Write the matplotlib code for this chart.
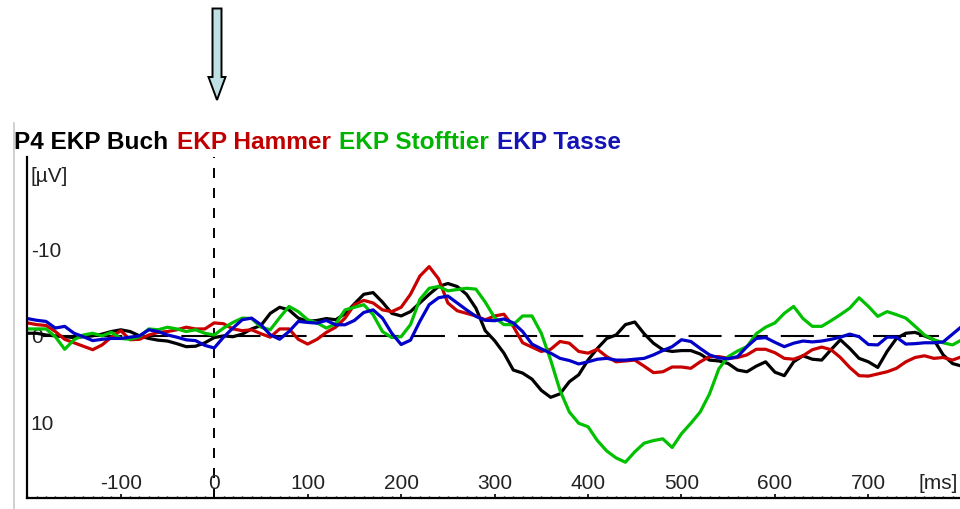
import numpy as np
import matplotlib
matplotlib.use('Agg')
import matplotlib.pyplot as plt
from matplotlib.patches import Polygon
from matplotlib.lines import Line2D
from matplotlib.ticker import MultipleLocator

plt.rcParams['font.family'] = ['Liberation Sans', 'DejaVu Sans']
plt.rcParams['lines.scale_dashes'] = False
plt.rcParams['axes.unicode_minus'] = False

# sampling grid in ms (every 10 ms)
times = np.arange(-200, 801, 10)

# ERP traces in microvolt (negative up)
buch = [-0.3, -0.3, -0.1, 0.0, 0.1, 0.2, 0.1, 0.0, -0.2, -0.5,
        -0.7, -0.5, 0.0, 0.3, 0.5, 0.6, 0.9, 1.25, 1.2, 0.8,
        0.2, 0.0, 0.1, -0.2, -0.8, -1.2, -2.6, -3.3, -3.0, -2.05,
        -1.67, -1.78, -2.0, -1.86, -2.55, -3.7, -4.8, -5.0, -3.9, -2.6,
        -2.3, -2.8, -3.8, -4.8, -5.7, -6.05, -5.7, -4.8, -3.2, -0.6,
        0.55, 2.0, 3.95, 4.3, 5.0, 6.3, 7.1, 6.7, 5.3, 4.5,
        2.8, 1.45, 0.3, -0.1, -1.3, -1.6, -0.25, 0.85, 1.6, 1.8,
        1.7, 1.7, 2.1, 2.8, 2.9, 3.2, 3.95, 4.15, 3.5, 3.0,
        4.2, 4.6, 3.0, 2.3, 2.7, 2.8, 1.6, 0.45, 1.45, 2.6,
        3.0, 3.65, 1.8, 0.3, -0.3, -0.4, 0.0, 0.45, 2.2, 3.2,
        3.5]
hammer = [-1.5, -1.3, -1.2, -0.5, 0.4, 0.8, 1.2, 1.6, 1.05, 0.15,
          -0.6, 0.45, 0.4, -0.1, -0.4, -0.5, -0.7, -1.0, -0.8, -0.8,
          -1.5, -1.4, -0.8, -0.6, -0.7, -0.25, 0.15, -0.8, -0.8, 0.4,
          0.95, 0.4, -0.4, -1.0, -2.05, -3.6, -4.1, -3.8, -3.0, -2.8,
          -3.3, -4.8, -6.9, -8.0, -6.6, -3.8, -2.9, -2.6, -2.3, -1.85,
          -2.3, -2.5, -1.1, 0.8, 1.3, 1.8, 1.55, 0.65, 0.85, 1.8,
          2.0, 1.55, 2.4, 3.0, 2.9, 2.8, 3.5, 4.25, 4.15, 3.6,
          3.6, 3.75, 3.0, 2.4, 2.4, 2.6, 2.5, 2.2, 1.55, 1.55,
          1.95, 2.6, 2.7, 2.3, 1.6, 1.3, 1.6, 2.5, 3.65, 4.6,
          4.65, 4.4, 4.15, 3.75, 3.0, 2.5, 2.3, 2.6, 2.5, 2.8,
          2.4]
stofftier = [-0.8, -0.8, -0.8, 0.1, 1.55, 0.45, -0.1, -0.3, 0.0, -0.4,
             0.3, 0.4, 0.1, -0.8, -0.7, -1.0, -0.8, -0.5, -0.7, -0.3,
             -0.1, -0.9, -1.55, -2.05, -2.0, -1.0, -0.7, -2.1, -3.4, -2.8,
             -1.86, -1.5, -0.9, -1.4, -3.0, -3.3, -3.6, -2.45, -0.5, 0.2,
             0.1, -1.3, -4.2, -5.5, -5.7, -5.2, -5.35, -5.5, -5.4, -3.9,
             -2.1, -1.3, -1.3, -2.3, -2.3, -0.3, 2.8, 6.3, 8.8, 10.1,
             10.5, 12.1, 13.3, 14.1, 14.6, 13.4, 12.4, 12.1, 11.9, 12.9,
             11.3, 10.1, 8.8, 6.7, 3.8, 2.4, 1.75, 1.25, -0.25, -1.0,
             -1.5, -2.6, -3.4, -2.0, -1.1, -1.1, -1.75, -2.45, -3.2, -4.4,
             -3.4, -2.25, -2.8, -2.45, -2.05, -1.1, -0.1, 0.45, 0.8, 1.05,
             0.45]
tasse = [-2.0, -1.8, -1.67, -0.9, -1.1, -0.3, 0.1, 0.55, 0.4, 0.3,
         0.3, 0.15, 0.0, -0.7, -0.5, -0.1, 0.15, 0.46, 0.55, 1.1,
         1.4, 0.15, -0.9, -1.86, -2.05, -1.28, -0.12, 0.39, -0.5, -1.67,
         -1.55, -1.47, -1.78, -1.28, -1.28, -1.78, -2.7, -3.0, -2.05, -0.3,
         1.0, 0.5, -1.67, -3.6, -4.4, -4.6, -3.8, -3.0, -2.25, -1.8,
         -1.75, -1.95, -1.5, -0.5, 0.95, 1.5, 2.0, 2.6, 2.85, 3.25,
         3.0, 2.7, 2.6, 2.8, 2.8, 2.7, 2.6, 2.2, 1.7, 1.25,
         0.45, 0.65, 1.45, 2.2, 2.55, 2.65, 2.4, 1.25, 0.3, 0.2,
         0.75, 1.25, 0.85, 0.6, 0.7, 0.6, 0.4, 0.15, -0.2, 0.1,
         1.0, 1.05, 0.15, 0.15, 0.95, 0.9, 0.8, 0.8, 0.7, -0.2,
         -1.1]

series = [('EKP Buch', buch, '#000000'),
          ('EKP Hammer', hammer, '#c80000'),
          ('EKP Stofftier', stofftier, '#00c000'),
          ('EKP Tasse', tasse, '#0000c8')]
title_parts = [('P4 EKP Buch', '#000000'), ('EKP Hammer', '#c00000'),
               ('EKP Stofftier', '#00b400'), ('EKP Tasse', '#1414b4')]

x_ticks = [-100, 0, 100, 200, 300, 400, 500, 600, 700]
y_ticks = [-10, 0, 10]
zero_line_from, zero_line_to = -183, 776

W, H = 960, 509
fig = plt.figure(figsize=(W / 100, H / 100), dpi=100)
ax = fig.add_axes([27.3 / W, 11.3 / H, 1 - 27.3 / W, 341 / H])
ax.set_xlim(-200, 798)
ax.set_ylim(18.7, -20.7)

for s in ['top', 'right']:
    ax.spines[s].set_visible(False)
for s in ['left', 'bottom']:
    ax.spines[s].set_linewidth(1.6)

# baseline and stimulus onset
ax.plot([zero_line_from, zero_line_to], [0, 0], color='k', lw=1.5,
        dashes=(23.8, 9.4), zorder=1)
ax.axvline(0, color='k', lw=1.4, dashes=(7.2, 7.2), zorder=1)

for name, vals, col in series:
    ax.plot(times, vals, color=col, lw=2.3, label=name, zorder=2)

ax.set_xticks(x_ticks)
ax.xaxis.set_minor_locator(MultipleLocator(10))
ax.tick_params(axis='x', which='major', direction='in', length=3, width=1.2,
               pad=-6.3, labelsize=15, labelcolor='#222222')
ax.tick_params(axis='x', which='minor', direction='in', length=1.6, width=1)
for lbl in ax.get_xticklabels():
    lbl.set_va('baseline')

ax.set_yticks(y_ticks)
ax.tick_params(axis='y', length=0, pad=-2.5, labelsize=15, labelcolor='#222222')
for lbl in ax.get_yticklabels():
    lbl.set_ha('left')

ax.annotate('[ms]', xy=(775, 0), xycoords=('data', 'axes fraction'),
            xytext=(0, 6.3), textcoords='offset points', ha='center',
            va='baseline', fontsize=15, color='#222222')
ax.annotate('[µV]', xy=(0, -18.6), xycoords=('axes fraction', 'data'),
            xytext=(2.5, 0), textcoords='offset points', ha='left',
            va='center_baseline', fontsize=15, color='#222222')

# coloured title, piece by piece
fig.canvas.draw()
renderer = fig.canvas.get_renderer()
x = 14
for text, col in title_parts:
    t = fig.text(x / W, 1 - 149.3 / H, text, color=col, fontsize=17.6,
                 fontweight='bold', va='baseline')
    bb = t.get_window_extent(renderer)
    x = bb.x1 + 8.5

# grey frame line on the left
fig.add_artist(Line2D([13.5 / W, 13.5 / W], [0, 1 - 123 / H],
                      transform=fig.transFigure, color='#c8c8c8', lw=1.2))

# arrow marking stimulus onset
arrow_px = [(212.5, 8.5), (221.5, 8.5), (221.5, 77), (225.5, 77),
            (217, 100), (208.5, 77), (212.5, 77)]
arrow = Polygon([(px / W, 1 - py / H) for px, py in arrow_px], closed=True,
                transform=fig.transFigure, facecolor='#bfe0e3',
                edgecolor='black', lw=1.4)
fig.add_artist(arrow)

fig.savefig('out.png', dpi=100)
